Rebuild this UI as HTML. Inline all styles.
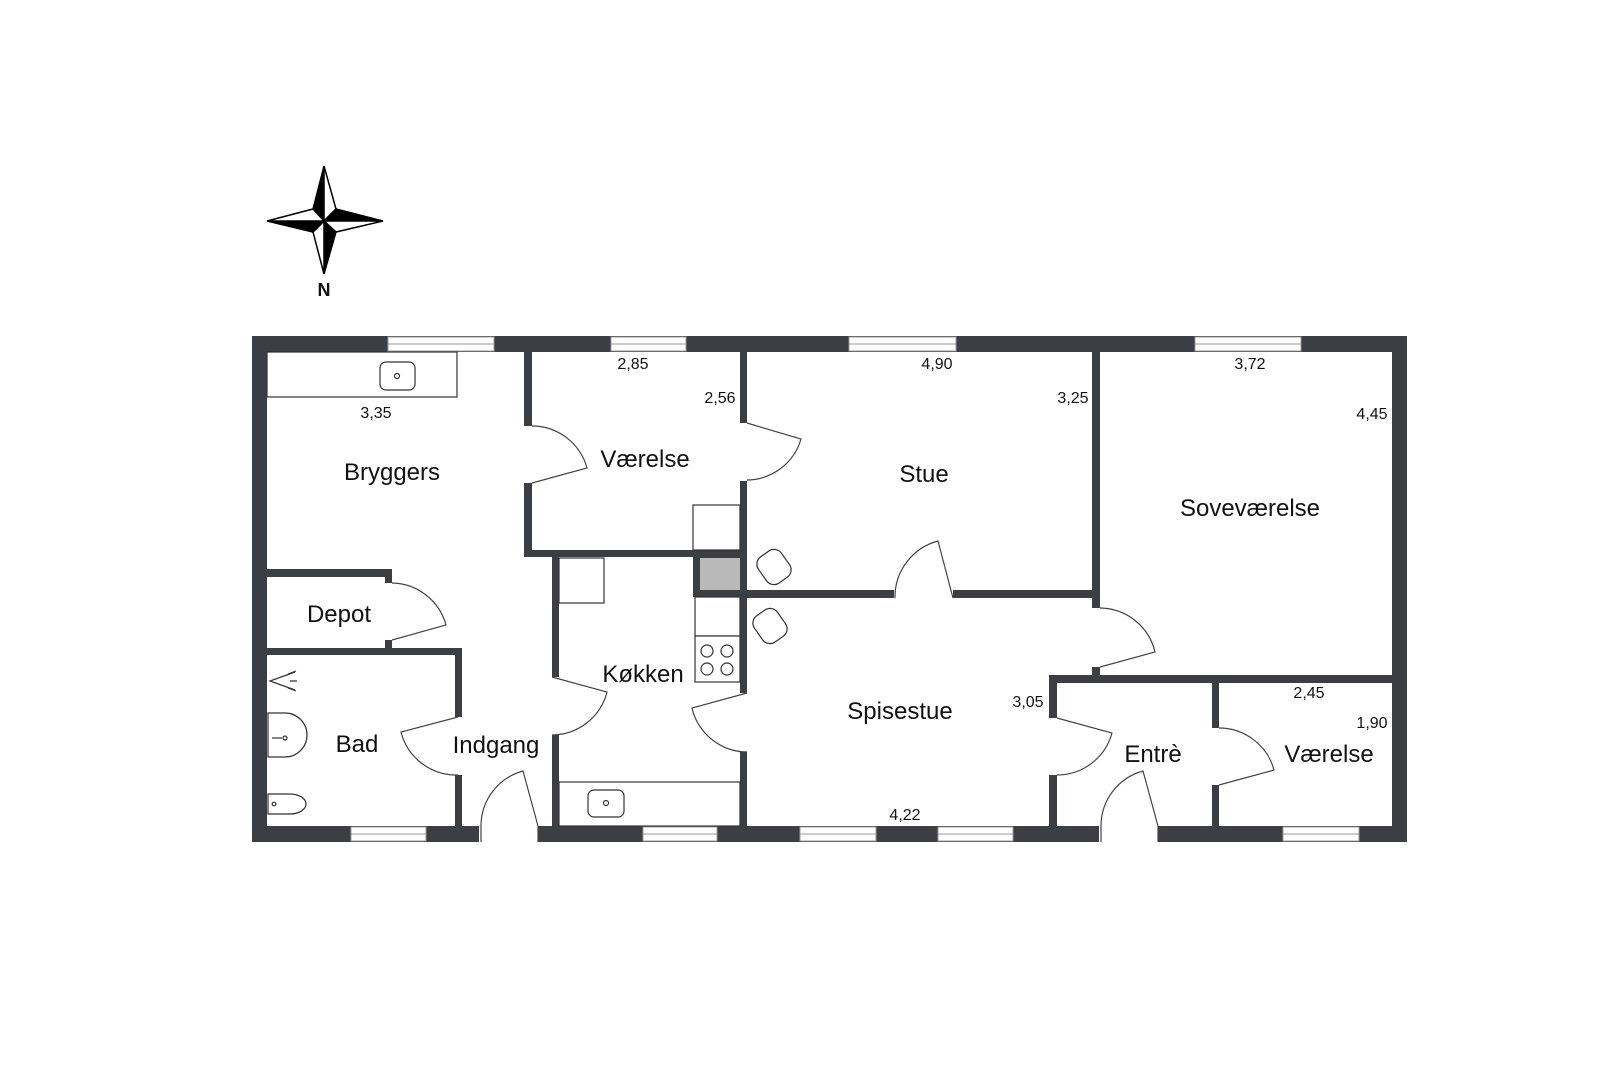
<!DOCTYPE html>
<html><head><meta charset="utf-8"><style>
html,body{margin:0;padding:0;background:#fff;}
svg{display:block;}
text{font-family:"Liberation Sans",sans-serif;fill:#111;}
.l{font-size:24px;text-anchor:middle;}
.d{font-size:16px;text-anchor:middle;}
</style></head><body>
<svg width="1620" height="1080" viewBox="0 0 1620 1080" xmlns="http://www.w3.org/2000/svg">
<rect width="1620" height="1080" fill="#fff"/>
<g stroke="#000" stroke-width="1.5" stroke-linejoin="miter">
<polygon points="324,166 313,209 324,221" fill="#000"/>
<polygon points="324,166 336,209 324,221" fill="#fff"/>
<polygon points="383,221 336,209 324,221" fill="#000"/>
<polygon points="383,221 336,232 324,221" fill="#fff"/>
<polygon points="324,274 336,232 324,221" fill="#000"/>
<polygon points="324,274 313,232 324,221" fill="#fff"/>
<polygon points="267,221 313,232 324,221" fill="#000"/>
<polygon points="267,221 313,209 324,221" fill="#fff"/>
</g>
<text x="324" y="296" font-size="18" font-weight="bold" text-anchor="middle">N</text>

<g fill="#3b3e43">
<rect x="252" y="336" width="1155" height="16"/>
<rect x="252" y="336" width="15" height="506"/>
<rect x="1392" y="336" width="15" height="506"/>
<rect x="252" y="826" width="227" height="16"/>
<rect x="538" y="826" width="561" height="16"/>
<rect x="1158" y="826" width="249" height="16"/>
<rect x="524" y="352" width="8" height="74"/>
<rect x="524" y="483" width="8" height="74"/>
<rect x="524" y="550" width="223" height="7"/>
<rect x="740" y="352" width="7" height="71"/>
<rect x="740" y="481" width="7" height="76"/>
<rect x="693" y="557" width="54" height="40"/>
<rect x="747" y="590" width="147" height="8"/>
<rect x="953" y="590" width="147" height="8"/>
<rect x="1092" y="352" width="8" height="256"/>
<rect x="1092" y="667" width="8" height="16"/>
<rect x="1049" y="675" width="358" height="8"/>
<rect x="1049" y="675" width="8" height="43"/>
<rect x="1049" y="775" width="8" height="51"/>
<rect x="1212" y="683" width="7" height="45"/>
<rect x="1212" y="785" width="7" height="41"/>
<rect x="740" y="597" width="7" height="96"/>
<rect x="740" y="752" width="7" height="74"/>
<rect x="552" y="557" width="7" height="120"/>
<rect x="552" y="735" width="7" height="91"/>
<rect x="267" y="569" width="125" height="8"/>
<rect x="385" y="569" width="7" height="14"/>
<rect x="385" y="640" width="7" height="8"/>
<rect x="267" y="648" width="195" height="7"/>
<rect x="455" y="648" width="7" height="69"/>
<rect x="455" y="775" width="7" height="51"/>
</g>
<rect x="700" y="558" width="40" height="32" fill="#b9b9b9"/>

<g fill="#fff" stroke="#9a9a9a" stroke-width="1">
<rect x="388" y="337" width="106" height="14"/><line x1="388" y1="344" x2="494" y2="344"/>
<rect x="611" y="337" width="75" height="14"/><line x1="611" y1="344" x2="686" y2="344"/>
<rect x="849" y="337" width="107" height="14"/><line x1="849" y1="344" x2="956" y2="344"/>
<rect x="1195" y="337" width="106" height="14"/><line x1="1195" y1="344" x2="1301" y2="344"/>
<rect x="351" y="827" width="75" height="14"/><line x1="351" y1="834" x2="426" y2="834"/>
<rect x="643" y="827" width="74" height="14"/><line x1="643" y1="834" x2="717" y2="834"/>
<rect x="800" y="827" width="76" height="14"/><line x1="800" y1="834" x2="876" y2="834"/>
<rect x="938" y="827" width="75" height="14"/><line x1="938" y1="834" x2="1013" y2="834"/>
<rect x="1283" y="827" width="76" height="14"/><line x1="1283" y1="834" x2="1359" y2="834"/>
</g>

<g fill="none" stroke="#444" stroke-width="1.2">
<path d="M532,426 A57,57 0 0 1 587,468 L532,483"/>
<path d="M747,423 L801,439 A57,57 0 0 1 747,480"/>
<path d="M392,640 L446,625 A57,57 0 0 0 392,583"/>
<path d="M458,717 L401,732 A57,57 0 0 0 458,775"/>
<path d="M552,677 L607,692 A57,57 0 0 1 552,735"/>
<path d="M538,826 L523,771 A57,57 0 0 0 481,826 L481,842"/>
<path d="M747,693 L692,708 A57,57 0 0 0 747,752"/>
<path d="M953,598 L938,541 A58,58 0 0 0 895,598"/>
<path d="M1100,667 L1155,652 A57,57 0 0 0 1100,608"/>
<path d="M1057,718 L1112,733 A57,57 0 0 1 1057,775"/>
<path d="M1219,785 L1274,770 A57,57 0 0 0 1219,728"/>
<path d="M1158,826 L1143,771 A57,57 0 0 0 1101,826 L1101,842"/>
<line x1="538" y1="826" x2="538" y2="842"/>
<line x1="1158" y1="826" x2="1158" y2="842"/>
</g>

<g fill="#fff" stroke="#333" stroke-width="1.2">
<rect x="267" y="352" width="190" height="45"/>
<rect x="380" y="362" width="35" height="28" rx="6"/>
<circle cx="397" cy="376" r="2.5"/>
<rect x="693" y="505" width="47" height="45"/>
<rect x="559" y="558" width="45" height="45"/>
<rect x="695" y="597" width="45" height="39"/>
<rect x="695" y="636" width="45" height="46"/>
<circle cx="707" cy="651" r="6"/><circle cx="727" cy="651" r="6"/>
<circle cx="707" cy="669" r="6"/><circle cx="727" cy="669" r="6"/>
<rect x="559" y="782" width="181" height="44"/>
<rect x="588" y="790" width="36" height="27" rx="6"/>
<circle cx="606" cy="803" r="2.5"/>
<rect x="760" y="551" width="28" height="32" rx="9" transform="rotate(-35 774 567)"/>
<rect x="756" y="610" width="28" height="32" rx="9" transform="rotate(-35 770 626)"/>
<path d="M268,713 L285,713 A22,22 0 0 1 285,757 L268,757 Z"/>
<path d="M272,738 L282,738" />
<circle cx="285" cy="738" r="2"/>
<path d="M268,794 L290,794 A16,10 0 0 1 290,814 L268,814 Z"/>
<circle cx="274" cy="804" r="1.8"/>
<path d="M295,672 L270,681 L295,690" fill="none"/>
<path d="M288,674 L296,671 M290,681 L297,681 M288,688 L296,691" fill="none"/>
</g>

<text class="l" x="392" y="480">Bryggers</text>
<text class="l" x="645" y="467">Værelse</text>
<text class="l" x="924" y="482">Stue</text>
<text class="l" x="1250" y="516">Soveværelse</text>
<text class="l" x="339" y="622">Depot</text>
<text class="l" x="643" y="682">Køkken</text>
<text class="l" x="357" y="752">Bad</text>
<text class="l" x="496" y="753">Indgang</text>
<text class="l" x="900" y="719">Spisestue</text>
<text class="l" x="1153" y="762">Entrè</text>
<text class="l" x="1329" y="762">Værelse</text>
<text class="d" x="376" y="418">3,35</text>
<text class="d" x="633" y="369">2,85</text>
<text class="d" x="720" y="403">2,56</text>
<text class="d" x="937" y="369">4,90</text>
<text class="d" x="1073" y="403">3,25</text>
<text class="d" x="1250" y="369">3,72</text>
<text class="d" x="1372" y="419">4,45</text>
<text class="d" x="1028" y="707">3,05</text>
<text class="d" x="1309" y="698">2,45</text>
<text class="d" x="1372" y="728">1,90</text>
<text class="d" x="905" y="820">4,22</text>
</svg>
</body></html>
